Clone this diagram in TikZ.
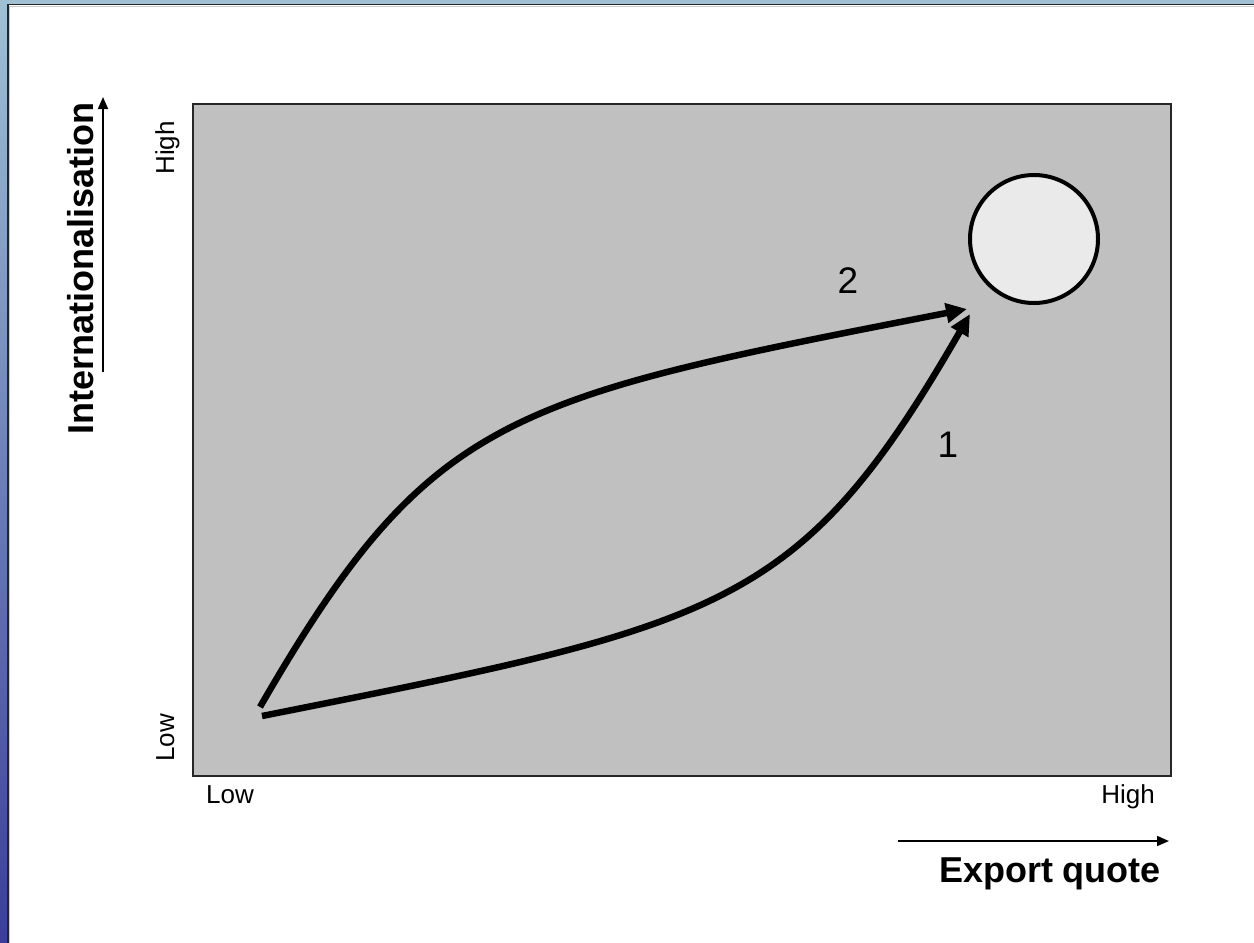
\documentclass[tikz,border=0pt]{standalone}
\usepackage{fontspec}
\setmainfont{Liberation Sans}
\usetikzlibrary{arrows.meta}
\definecolor{plotgray}{HTML}{C0C0C0}
\definecolor{circfill}{HTML}{EAEAEA}
\definecolor{striptop}{HTML}{A0C1D4}
\definecolor{stripbot}{HTML}{3A3E9A}
\tikzset{
  curvearrow/.style={line width=6.5pt, -{Triangle[length=21pt,width=19pt]}},
  axisarrow/.style={line width=1.8pt, -{Triangle[length=12pt,width=10pt]}},
  ticklabel/.style={font=\fontsize{26}{28}\selectfont, inner sep=0pt},
  axislabel/.style={font=\fontsize{36}{40}\selectfont\bfseries, inner sep=0pt},
  numlabel/.style={font=\fontsize{37}{40}\selectfont, inner sep=0pt},
}
\begin{document}
\begin{tikzpicture}[x=1pt,y=-1pt]
\useasboundingbox (0,0) rectangle (1254,943);
\fill[white] (0,0) rectangle (1254,943);
% frame
\shade[top color=striptop, bottom color=stripbot] (0,0) rectangle (7.5,943);
\fill[striptop] (0,0) rectangle (1254,3.5);
\draw[line width=1.5pt, black!85] (8,943) -- (8,4.5) -- (1254,4.5);
\draw[line width=1pt, black!20] (9.5,943) -- (9.5,6) -- (1254,6);
% plot area
\node[draw=black!85, line width=1.5pt, fill=plotgray, minimum width=978pt, minimum height=672pt, inner sep=0pt, anchor=north west] (box) at (192,103) {};
% target circle
\node[circle, draw=black, line width=4pt, fill=circfill, minimum size=128pt, inner sep=0pt] (goal) at (1034,239) {};
% curve endpoints
\coordinate (s2) at (260,707);
\coordinate (e2) at (967,309);
\coordinate (s1) at (262,716);
\coordinate (e1) at (970,314);
\draw[curvearrow] (s2) .. controls (430,412.6) and (506.4,398.7) .. (e2);
\draw[curvearrow] (s1) .. controls (723.1,624.3) and (799.5,610.4) .. (e1);
\node[numlabel] (n2) at (848,281) {2};
\node[numlabel] (n1) at (948,445) {1};
% axes arrows
\coordinate (ya) at (103,372);
\coordinate (yb) at (103,97);
\draw[axisarrow] (ya) -- (yb);
\coordinate (xa) at (898,841);
\coordinate (xb) at (1169,841);
\draw[axisarrow] (xa) -- (xb);
% axis labels
\node[axislabel, rotate=90, anchor=base] (ylab) at (93,268.5) {Internationalisation};
\node[axislabel, anchor=base] (xlab) at (1050,882) {Export quote};
% tick labels
\node[ticklabel, rotate=90, anchor=base] (yhigh) at (174,148) {High};
\node[ticklabel, rotate=90, anchor=base] (ylow) at (174,738) {Low};
\node[ticklabel, anchor=base] (xlow) at (230,803) {Low};
\node[ticklabel, anchor=base] (xhigh) at (1128,803) {High};
\end{tikzpicture}
\end{document}
